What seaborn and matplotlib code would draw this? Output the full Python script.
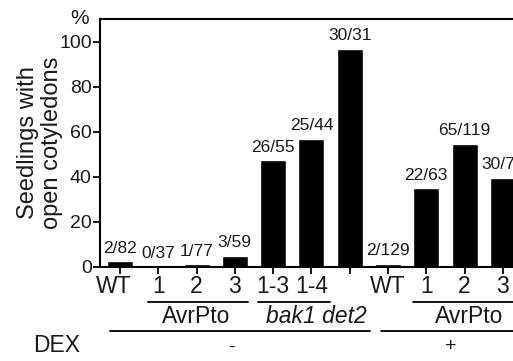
import matplotlib
matplotlib.use("Agg")
import matplotlib.pyplot as plt
import matplotlib.transforms as mtransforms
import numpy as np
import pandas as pd
import seaborn as sns

# bar data (left to right)
tick_labels = ["WT", "1", "2", "3", "1-3", "1-4", "", "WT", "1", "2", "3"]
open_counts = [2, 0, 1, 3, 26, 25, 30, 2, 22, 65, 30]
total_counts = [82, 37, 77, 59, 55, 44, 31, 129, 63, 119, 76]
percent_open = [100.0 * o / t for o, t in zip(open_counts, total_counts)]

sns.set_style("ticks")
plt.rcParams["font.family"] = ["Liberation Sans", "DejaVu Sans"]
txt = "#1a1a1a"

df = pd.DataFrame({"pos": np.arange(len(percent_open)), "pct": percent_open})

fig = plt.figure(figsize=(5.13, 3.61), dpi=100)
ax = fig.add_axes([0.195, 0.2604, 0.83, 0.687])
sns.barplot(data=df, x="pos", y="pct", color="black", width=0.68,
            saturation=1, ax=ax)

ax.set_xlim(-0.52, 10.6)
ax.set_ylim(0, 110)
ax.set_yticks([0, 20, 40, 60, 80, 100])
ax.set_xticks(np.arange(len(tick_labels)))
ax.set_xticklabels(tick_labels)
ax.tick_params(axis="both", direction="out", length=5, width=1.3,
               color="black", labelcolor=txt)
ax.tick_params(axis="x", labelsize=16.5, pad=1)
ax.tick_params(axis="y", labelsize=14, pad=1)
for side in ["left", "bottom", "top"]:
    ax.spines[side].set_linewidth(1.5)
    ax.spines[side].set_color("black")
ax.spines["right"].set_visible(False)
ax.set_xlabel("")
ax.set_ylabel("Seedlings with\nopen cotyledons", fontsize=17,
              color=txt, linespacing=1.12, labelpad=-2.5)
fig.text(0.156, 0.950, "%", fontsize=15, color=txt, ha="center", va="center")

# first WT label sits a little left of its bar in the original
first = ax.get_xticklabels()[0]
first.set_transform(first.get_transform()
                    + mtransforms.ScaledTranslation(-0.06, 0, fig.dpi_scale_trans))

for i, (o, t) in enumerate(zip(open_counts, total_counts)):
    ax.annotate(f"{o}/{t}", (i, percent_open[i]), xytext=(0, 4),
                textcoords="offset points", ha="center", va="bottom",
                fontsize=12.5, color=txt)

# group brackets below the axis
trans = ax.get_xaxis_transform()
groups = [(0.73, 3.34, 1.98, "AvrPto", "normal"),
          (3.6, 5.48, 5.14, "bak1 det2", "italic"),
          (7.65, 11.5, 9.12, "AvrPto", "normal")]
for x0, x1, xt, name, style in groups:
    ax.plot([x0, x1], [-0.141, -0.141], color="black", lw=1.3,
            transform=trans, clip_on=False)
    ax.text(xt, -0.198, name, transform=trans, ha="center", va="center",
            fontsize=16.5, style=style, color=txt)

dex = [(-0.26, 6.53, 2.92, "-"), (6.81, 11.5, 8.64, "+")]
for x0, x1, xt, sign in dex:
    ax.plot([x0, x1], [-0.258, -0.258], color="black", lw=1.3,
            transform=trans, clip_on=False)
    ax.text(xt, -0.322, sign, transform=trans, ha="center", va="center",
            fontsize=14, color=txt)
fig.text(0.111, 0.042, "DEX", fontsize=16.5, color=txt, ha="center", va="center")

fig.savefig("out.png", dpi=100)
